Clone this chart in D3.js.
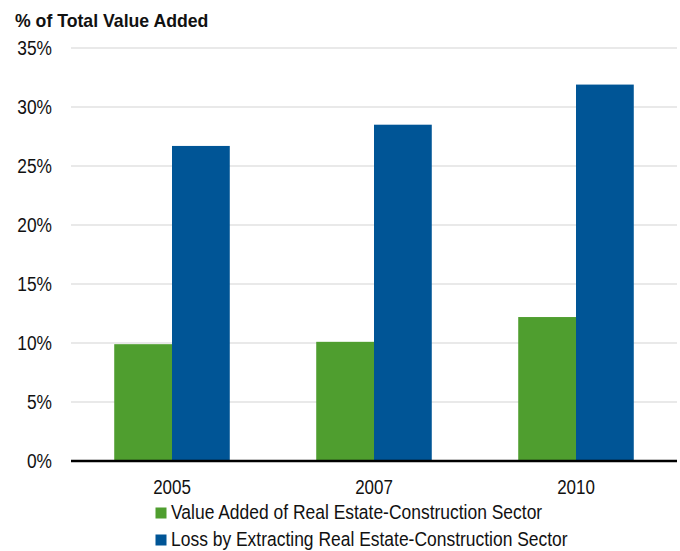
<!DOCTYPE html>
<html>
<head>
<meta charset="utf-8">
<script src="https://cdn.jsdelivr.net/npm/d3@7/dist/d3.min.js"></script>
<style>
  html, body { margin: 0; padding: 0; background: #fff; }
  svg { display: block; }
  text { font-family: "Liberation Sans", Arial, sans-serif; fill: #111; }
</style>
</head>
<body>
<svg id="chart" width="680" height="551"></svg>
<script>
// Share of total value added, by year
const years = ["2005", "2007", "2010"];
const valueAdded = [9.9, 10.1, 12.2];
const extractionLoss = [26.7, 28.5, 31.9];
const yTicks = [0, 5, 10, 15, 20, 25, 30, 35];
const seriesNames = [
  "Value Added of Real Estate-Construction Sector",
  "Loss by Extracting Real Estate-Construction Sector"
];
const seriesColors = ["#4f9e2f", "#005596"];

const svg = d3.select("#chart");
const margin = { left: 71, right: 3, top: 48, bottom: 90 };
const W = 680, H = 551;
const FONT = "19.5px";

// Narrow the type horizontally around each label's own anchor point
function condense(sel, k) {
  sel.each(function () {
    const t = d3.select(this);
    const x0 = +t.attr("x") || 0;
    const y0 = +t.attr("y") || 0;
    t.attr("x", 0).attr("y", 0)
      .attr("transform", `translate(${x0},${y0}) scale(${k},1)`);
  });
}

const x = d3.scaleBand()
  .domain(years)
  .range([margin.left, W - margin.right])
  .paddingInner(0.428)
  .paddingOuter(0.214);

const xs = d3.scaleBand()
  .domain([0, 1])
  .range([0, x.bandwidth()]);

const y = d3.scaleLinear()
  .domain([0, 35])
  .range([H - margin.bottom, margin.top]);

// Axis title
svg.append("text")
  .attr("x", 15).attr("y", 27)
  .style("font-size", "18.7px").style("font-weight", "bold")
  .text("% of Total Value Added")
  .call(condense, 0.945);

// Horizontal gridlines
svg.append("g")
  .selectAll("line")
  .data(yTicks.filter(d => d > 0))
  .join("line")
  .attr("x1", margin.left).attr("x2", W - margin.right)
  .attr("y1", d => y(d)).attr("y2", d => y(d))
  .attr("stroke", "#e2e2e2").attr("stroke-width", 1.5);

// Y axis labels
const yAxis = d3.axisLeft(y).tickValues(yTicks).tickFormat(d => d + "%").tickSize(0).tickPadding(19);
const gy = svg.append("g").attr("transform", `translate(${margin.left},0)`).call(yAxis);
gy.select(".domain").remove();
gy.selectAll("text").style("font-size", FONT).attr("fill", "#111")
  .style("font-family", '"Liberation Sans", Arial, sans-serif')
  .call(condense, 0.89);

// Bars
const rows = years.map((yr, i) => ({ yr, vals: [valueAdded[i], extractionLoss[i]] }));
const groups = svg.append("g").selectAll("g")
  .data(rows)
  .join("g")
  .attr("transform", d => `translate(${x(d.yr)},0)`);

groups.selectAll("rect")
  .data(d => d.vals.map((v, k) => ({ v, k })))
  .join("rect")
  .attr("x", d => xs(d.k))
  .attr("width", xs.bandwidth())
  .attr("y", d => y(d.v))
  .attr("height", d => y(0) - y(d.v))
  .attr("fill", d => seriesColors[d.k]);

// Baseline
svg.append("line")
  .attr("x1", margin.left).attr("x2", W - margin.right)
  .attr("y1", y(0)).attr("y2", y(0))
  .attr("stroke", "#000").attr("stroke-width", 2.5);

// X axis labels
const xAxis = d3.axisBottom(x).tickSize(0).tickPadding(19);
const gx = svg.append("g").attr("transform", `translate(0,${y(0)})`).call(xAxis);
gx.select(".domain").remove();
gx.selectAll("text").style("font-size", FONT).attr("fill", "#111")
  .style("font-family", '"Liberation Sans", Arial, sans-serif')
  .call(condense, 0.87);

// Legend
const legend = svg.append("g").attr("transform", "translate(155.5,507.5)");
const items = legend.selectAll("g")
  .data(seriesNames)
  .join("g")
  .attr("transform", (d, i) => `translate(0,${i * 27})`);
items.append("rect")
  .attr("width", 11).attr("height", 11)
  .attr("fill", (d, i) => seriesColors[i]);
items.append("text")
  .attr("x", 15.5).attr("y", 11.5)
  .style("font-size", FONT)
  .text(d => d)
  .call(condense, 0.895);
</script>
</body>
</html>
